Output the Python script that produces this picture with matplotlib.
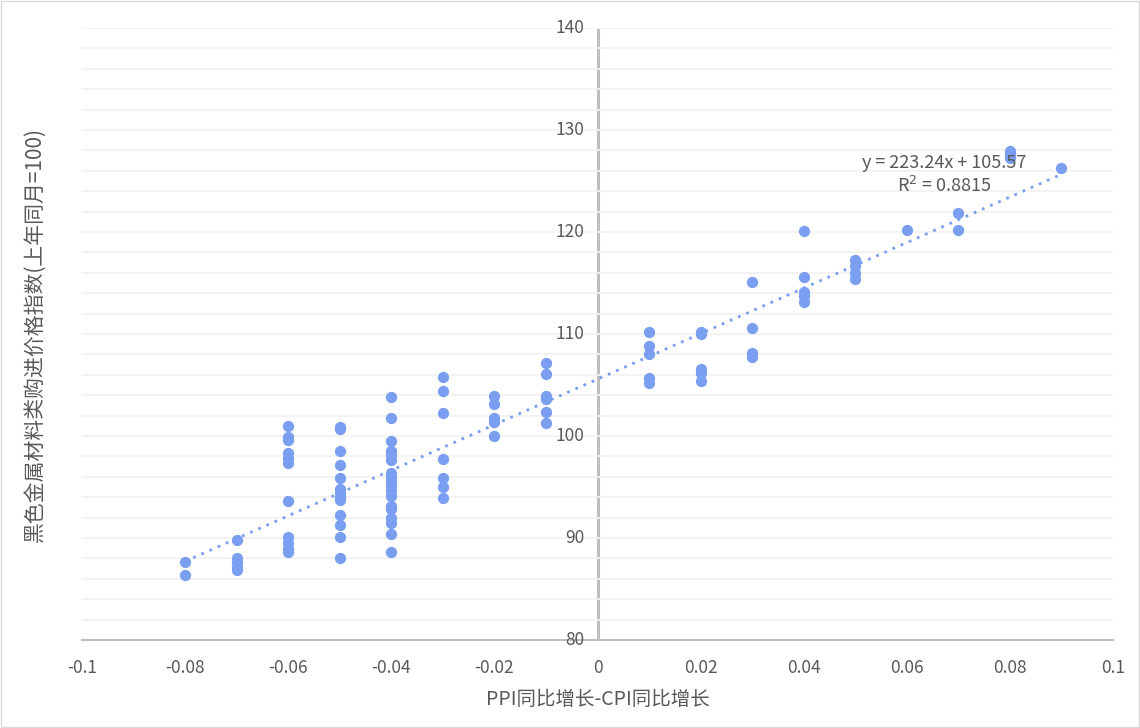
import numpy as np
import matplotlib
matplotlib.use("Agg")
import matplotlib.pyplot as plt
from matplotlib.ticker import MultipleLocator

plt.rcParams['font.family'] = ['Noto Sans CJK SC', 'DejaVu Sans']

# 数据：PPI同比增长-CPI同比增长 vs 黑色金属材料类购进价格指数
x_vals = [-0.08] * 2 + [-0.07] * 5 + [-0.06] * 11 + [-0.05] * 13 + [-0.04] * 18 \
    + [-0.03] * 7 + [-0.02] * 5 + [-0.01] * 6 + [0.01] * 5 + [0.02] * 5 \
    + [0.03] * 4 + [0.04] * 5 + [0.05] * 4 + [0.06] * 1 + [0.07] * 2 \
    + [0.08] * 3 + [0.09] * 1
y_vals = [87.6, 86.4,
          89.8, 88.0, 87.6, 87.2, 86.9,
          101.0, 99.9, 99.6, 98.3, 97.8, 97.4, 93.6, 90.1, 89.5, 88.9, 88.6,
          100.9, 100.7, 98.5, 97.2, 95.9, 94.8, 94.4, 94.0, 93.7, 92.3, 91.3, 90.1, 88.0,
          103.8, 101.8, 99.5, 98.5, 98.1, 97.6, 96.4, 96.0, 95.5, 95.1, 94.6, 94.1,
          93.1, 92.8, 92.0, 91.5, 90.4, 88.6,
          105.8, 104.4, 102.3, 97.7, 95.9, 95.0, 93.9,
          103.9, 103.1, 101.8, 101.4, 100.0,
          107.2, 106.1, 103.9, 103.6, 102.4, 101.3,
          110.2, 108.8, 108.0, 105.7, 105.2,
          110.2, 110.0, 106.6, 106.2, 105.4,
          115.1, 110.6, 108.1, 107.7,
          120.1, 115.6, 114.1, 113.7, 113.1,
          117.3, 116.7, 116.0, 115.4,
          120.2,
          121.9, 120.2,
          127.9, 127.6, 127.3,
          126.3]
slope, intercept = 223.24, 105.57
r2 = 0.8815

blue = '#7A9EF0'
text_c = '#595959'

fig = plt.figure(figsize=(11.4, 7.28), dpi=100)
ax = fig.add_axes([82 / 1140, 1 - 640 / 728, (1113 - 82) / 1140, (640 - 28) / 728])

ax.set_xlim(-0.1, 0.1)
ax.set_ylim(80, 140)
ax.xaxis.set_major_locator(MultipleLocator(0.02))
ax.yaxis.set_major_locator(MultipleLocator(10))
ax.yaxis.set_minor_locator(MultipleLocator(2))

ax.grid(which='minor', axis='y', color='#F2F2F2', lw=1.3, zorder=0)
ax.grid(which='major', axis='y', color='#D9D9D9', lw=1.3, zorder=0)

for s in ['top', 'right', 'left']:
    ax.spines[s].set_visible(False)
ax.spines['bottom'].set_color('#BFBFBF')
ax.spines['bottom'].set_linewidth(1.5)
ax.axvline(0, color='#BFBFBF', lw=2.2, zorder=1)

ax.tick_params(axis='both', which='both', length=0, colors=text_c, labelsize=12.5)
ax.tick_params(axis='x', pad=14)
ax.set_xticks(np.round(np.arange(-0.1, 0.1001, 0.02), 2))
ax.set_xticklabels(['-0.1', '-0.08', '-0.06', '-0.04', '-0.02', '0',
                    '0.02', '0.04', '0.06', '0.08', '0.1'])
ax.set_yticks([])
for v in range(80, 141, 10):
    ax.text(-0.0025, v, str(v), ha='right', va='center', fontsize=12.5, color=text_c)

ax.scatter(x_vals, y_vals, s=66, color=blue, zorder=3, linewidths=0)

tx = np.array([min(x_vals), max(x_vals)])
ax.plot(tx, slope * tx + intercept, color=blue, lw=2, ls=(0, (1, 2.2)), zorder=2)

ax.text(0.0672, 126.8, f'y = {slope}x + {intercept}', ha='center', va='center',
        fontsize=13, color=text_c, zorder=4)
ax.text(0.0672, 124.5, f'R$^2$ = {r2}', ha='center', va='center',
        fontsize=13, color=text_c, zorder=4)

ax.set_xlabel('PPI同比增长-CPI同比增长', fontsize=14, color=text_c, labelpad=8)
fig.text(35 / 1140, 1 - 335 / 728, '黑色金属材料类购进价格指数(上年同月=100)',
         rotation=90, ha='center', va='center', fontsize=15, color=text_c)

fig.patches.append(plt.Rectangle((0.001, 0.001), 0.998, 0.998, transform=fig.transFigure,
                                 fill=False, edgecolor='#D9D9D9', lw=1))

fig.savefig('out.png', dpi=100)
